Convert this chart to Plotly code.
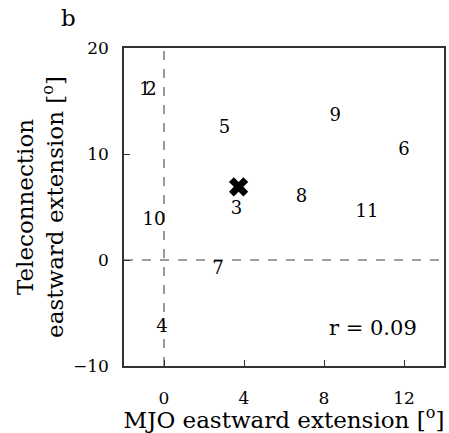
import plotly.graph_objects as go

# Model labels and their eastward-extension values (degrees)
labels = ["1", "2", "3", "4", "5", "6", "7", "8", "9", "10", "11"]
mjo_ext = [-0.95, -0.65, 3.63, -0.1, 3.03, 12.0, 2.7, 6.87, 8.56, -0.5, 10.15]
tele_ext = [16.0, 16.0, 4.8, -6.4, 12.45, 10.3, -0.94, 5.94, 13.5, 3.7, 4.5]

# Multi-model mean
mean_mjo = [3.73]
mean_tele = [6.9]

corr_text = "r = 0.09"
x_ticks = [0, 4, 8, 12]
y_ticks = [-10, 0, 10, 20]

FONT = "DejaVu Serif"
AX_COLOR = "#333333"

fig = go.Figure()

# Reference lines at zero
fig.add_shape(type="line", x0=0, x1=0, y0=-10, y1=20, xref="x", yref="y",
              line=dict(color="#808080", width=1.6, dash="dash"), layer="below")
fig.add_shape(type="line", x0=-2, x1=14, y0=0, y1=0, xref="x", yref="y",
              line=dict(color="#808080", width=1.6, dash="dash"), layer="below")

fig.add_trace(go.Scatter(
    x=mjo_ext, y=tele_ext, mode="text", text=labels,
    textposition="middle center",
    textfont=dict(family=FONT, size=18, color="black"),
    showlegend=False, hoverinfo="skip",
))

fig.add_trace(go.Scatter(
    x=mean_mjo, y=mean_tele, mode="markers",
    marker=dict(symbol="x", size=17, color="black", line=dict(width=0)),
    showlegend=False,
))

fig.add_annotation(
    text=corr_text, x=(421 - 124) / 322, y=(366 - 328) / 318,
    xref="paper", yref="paper",
    xanchor="right", yanchor="middle", showarrow=False,
    font=dict(family=FONT, size=21, color="black"),
)

# Panel letter
fig.add_annotation(
    text="b", x=(68 - 124) / 322, y=1 + (48 - 18) / 318,
    xref="paper", yref="paper", showarrow=False,
    xanchor="center", yanchor="middle",
    font=dict(family=FONT, size=23, color="black"),
)

axis_common = dict(
    showline=True, linecolor=AX_COLOR, linewidth=1.5, mirror=True,
    ticks="inside", ticklen=6, tickwidth=1.2, tickcolor=AX_COLOR,
    showgrid=False, zeroline=False,
    tickfont=dict(family=FONT, size=17, color="black"),
    title_font=dict(family=FONT, size=23, color="black"),
)

fig.update_xaxes(range=[-2, 14], tickvals=x_ticks,
                 title_text="MJO eastward extension [<sup>o</sup>]",
                 title_standoff=0, ticklabelstandoff=16, **axis_common)
fig.update_yaxes(range=[-10, 20], tickvals=y_ticks,
                 title_text="Teleconnection<br>eastward extension [<sup>o</sup>]",
                 title_standoff=3, ticklabelstandoff=10, **axis_common)

fig.update_layout(
    width=449, height=433,
    margin=dict(l=124, r=3, t=48, b=67),
    plot_bgcolor="white", paper_bgcolor="white",
)

fig.write_html("out.html")
